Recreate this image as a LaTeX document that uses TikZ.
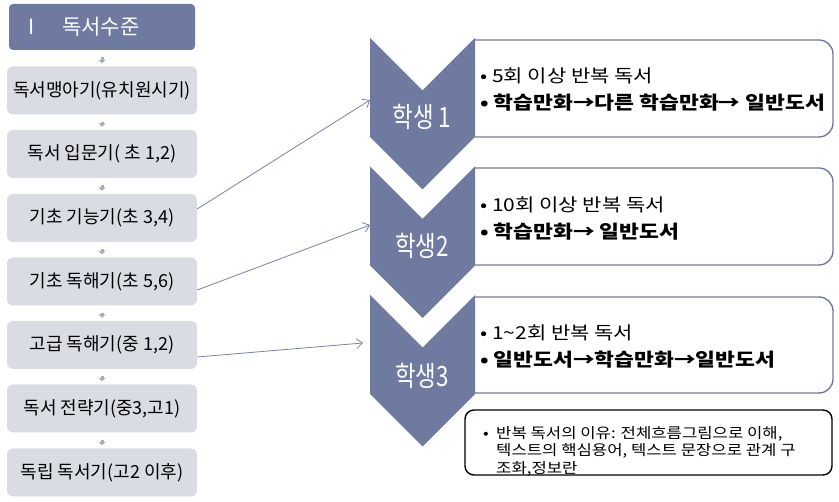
\documentclass[tikz,border=0pt]{standalone}
\usepackage{fontspec}
\setmainfont{Noto Sans CJK KR}
\newfontfamily\widefont[FakeStretch=1.18]{Noto Sans CJK KR}
\newfontfamily\notefont[FakeStretch=1.15]{Noto Sans CJK KR}
\newfontfamily\tallfont[FakeStretch=0.8]{Noto Sans CJK KR}
\usetikzlibrary{arrows.meta}
\definecolor{slate}{HTML}{6E7AA0}
\definecolor{lightbox}{HTML}{D9DCE3}
\definecolor{smallarrow}{HTML}{A8ACB8}
\definecolor{linkcol}{HTML}{7A80A8}
\begin{document}
\begin{tikzpicture}[x=1pt,y=-1pt,
  headbox/.style={fill=slate, rounded corners=4pt, minimum width=186pt, text width=186pt, align=left, minimum height=46pt, text=white, inner sep=0pt, font=\fontsize{21}{24}\selectfont},
  levelbox/.style={fill=lightbox, rounded corners=6pt, minimum width=190pt, minimum height=48pt, inner sep=0pt, font=\fontsize{18}{21}\selectfont},
  flowarr/.style={draw=smallarrow, line width=3pt, -{Triangle[length=3.5pt,width=7pt]}, shorten <=7pt, shorten >=3pt},
  link/.style={draw=linkcol, line width=0.8pt, -{Straight Barb[length=6pt,width=10pt]}},
  chev/.style={fill=slate},
  chevlabel/.style={text=white, font=\tallfont\fontsize{28}{32}\selectfont, inner sep=0pt},
  panel/.style={draw=slate, line width=1.4pt, rounded corners=14pt},
  lineone/.style={anchor=west, inner sep=0pt, font=\widefont\fontsize{17.8}{20}\selectfont},
  linetwo/.style={anchor=west, inner sep=0pt, font=\widefont\bfseries\fontsize{18.3}{22}\selectfont},
  notebox/.style={draw=black, line width=1.4pt, rounded corners=9pt, minimum width=367pt, minimum height=65pt, inner sep=0pt},
  notetxt/.style={inner sep=0pt, align=left, font=\notefont\fontsize{14.5}{17.5}\selectfont}
]
\useasboundingbox (0,0) rectangle (839,502);

% left column
\node[headbox] (h) at (102,27) {\hspace*{20pt}I\hspace{27pt}독서수준};
\node[levelbox] (l1) at (102,90.5) {독서맹아기(유치원시기)};
\node[levelbox] (l2) at (102,154) {독서 입문기( 초 1,2)};
\node[levelbox] (l3) at (102,218) {기초 기능기(초 3,4)};
\node[levelbox] (l4) at (102,281.5) {기초 독해기(초 5,6)};
\node[levelbox] (l5) at (102,345) {고급 독해기(중 1,2)};
\node[levelbox] (l6) at (102,408.5) {독서 전략기(중3,고1)};
\node[levelbox] (l7) at (102,472.5) {독립 독서기(고2 이후)};

\draw[flowarr] (h.south) -- (l1.north);
\draw[flowarr] (l1.south) -- (l2.north);
\draw[flowarr] (l2.south) -- (l3.north);
\draw[flowarr] (l3.south) -- (l4.north);
\draw[flowarr] (l4.south) -- (l5.north);
\draw[flowarr] (l5.south) -- (l6.north);
\draw[flowarr] (l6.south) -- (l7.north);

% right panels
\draw[panel] (475,40) -- (833,40) -- (833,137) -- (475,137);
\draw[panel] (475,168) -- (833,168) -- (833,265) -- (475,265);
\draw[panel] (475,297) -- (833,297) -- (833,393) -- (475,393);

% chevrons
\fill[chev] (370,38) -- (422.5,90.5) -- (475,38) -- (475,137) -- (422.5,189.5) -- (370,137) -- cycle;
\fill[chev] (370,166.5) -- (422.5,219) -- (475,166.5) -- (475,265.5) -- (422.5,318) -- (370,265.5) -- cycle;
\fill[chev] (370,295) -- (422.5,347.5) -- (475,295) -- (475,394) -- (422.5,446.5) -- (370,394) -- cycle;

\node[chevlabel] (s1) at (422,117) {학생 1};
\node[chevlabel] (s2) at (422,246) {학생2};
\node[chevlabel] (s3) at (422,376) {학생3};

% panel texts
\node[lineone] (p1a) at (480,76) {• 5회 이상 반복 독서};
\node[linetwo] (p1b) at (480,103) {• 학습만화→다른 학습만화→ 일반도서};
\node[lineone] (p2a) at (480,205) {• 10회 이상 반복 독서};
\node[linetwo] (p2b) at (480,232) {• 학습만화→ 일반도서};
\node[lineone] (p3a) at (480,333) {• 1\textasciitilde2회 반복 독서};
\node[linetwo] (p3b) at (480,360) {• 일반도서→학습만화→일반도서};

% note
\node[notebox] (note) at (648.5,442.5) {};
\node[notetxt, anchor=west] (nb) at (483,435) {•};
\node[notetxt, anchor=north west] (nt) at (496,426) {반복 독서의 이유: 전체흐름그림으로 이해,\\텍스트의 핵심용어, 텍스트 문장으로 관계 구\\조화,정보란};

% connectors
\coordinate (e1) at (370,100);
\coordinate (e2) at (370,225);
\coordinate (e3) at (363,343);
\draw[link] ([yshift=9pt]l3.east) -- (e1);
\draw[link] ([yshift=-8.5pt]l4.east) -- (e2);
\draw[link] ([yshift=-12pt]l5.east) -- (e3);
\end{tikzpicture}
\end{document}
